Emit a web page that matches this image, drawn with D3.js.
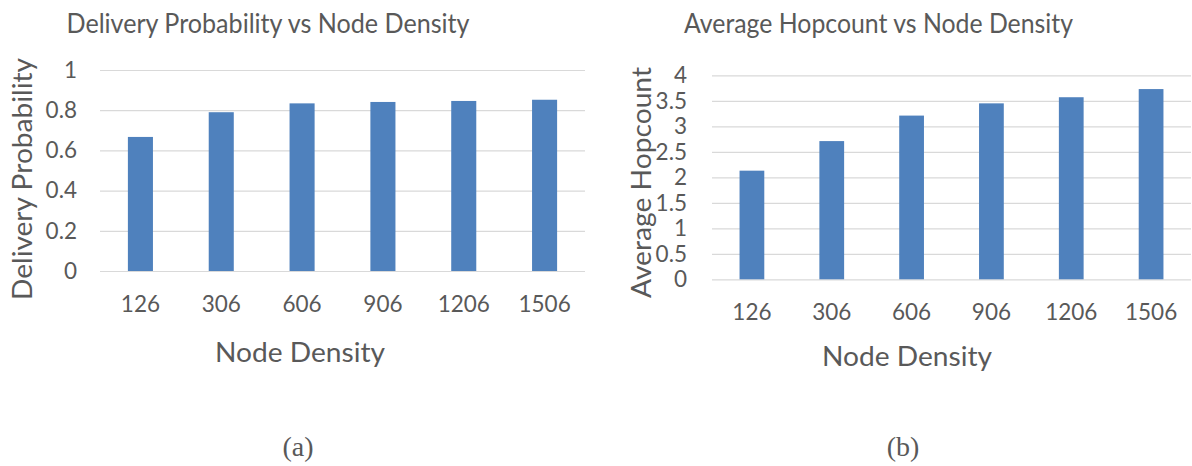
<!DOCTYPE html>
<html>
<head>
<meta charset="utf-8">
<script src="https://cdn.jsdelivr.net/npm/d3@7/dist/d3.min.js"></script>
<style>
  html, body { margin: 0; padding: 0; background: #fff; }
  svg { display: block; }
  text { font-family: Lato, "Open Sans", sans-serif; fill: #595959; }
</style>
</head>
<body>
<svg id="chart" width="1192" height="466"></svg>
<script>
// Categories shared by both panels
const nodeDensity = ["126", "306", "606", "906", "1206", "1506"];

// Panel (a): delivery probability per node density
const deliveryProbability = [0.667, 0.79, 0.834, 0.841, 0.846, 0.852];
const probabilityTicks = [0, 0.2, 0.4, 0.6, 0.8, 1];

// Panel (b): average hop count per node density
const averageHopcount = [2.13, 2.71, 3.21, 3.45, 3.57, 3.73];
const hopcountTicks = [0, 0.5, 1, 1.5, 2, 2.5, 3, 3.5, 4];

const svg = d3.select("#chart");
const barColor = "#4f81bd";
const gridColor = "#d9d9d9";
const textColor = "#595959";
const fontFamily = "Lato, 'Open Sans', sans-serif";

function drawPanel(cfg) {
  const x = d3.scaleBand()
    .domain(nodeDensity)
    .range([cfg.left, cfg.right])
    .paddingInner(0.69)
    .paddingOuter(0.345);

  const y = d3.scaleLinear()
    .domain([0, cfg.max])
    .range([cfg.bottom, cfg.top]);

  const g = svg.append("g");

  // horizontal gridlines
  const grid = g.append("g")
    .attr("transform", `translate(${cfg.left},0)`)
    .call(d3.axisLeft(y).tickValues(cfg.ticks)
      .tickSize(-(cfg.right - cfg.left)).tickFormat(""));
  grid.select(".domain").remove();
  grid.selectAll("line").attr("stroke", gridColor).attr("stroke-width", 1.2);

  // y tick labels
  const yAxis = g.append("g")
    .attr("transform", `translate(${cfg.left},0)`)
    .call(d3.axisLeft(y).tickValues(cfg.ticks).tickSize(0)
      .tickPadding(cfg.yPad).tickFormat(d => String(d)));
  yAxis.select(".domain").remove();
  yAxis.selectAll("text")
    .style("font-size", "22.5px")
    .style("font-family", fontFamily)
    .attr("fill", textColor);

  // bars
  g.append("g").selectAll("rect")
    .data(cfg.values)
    .join("rect")
    .attr("x", (d, i) => x(nodeDensity[i]))
    .attr("width", x.bandwidth())
    .attr("y", d => y(d))
    .attr("height", d => y(0) - y(d))
    .attr("fill", barColor);

  // x tick labels
  const xAxis = g.append("g")
    .attr("transform", `translate(0,${cfg.bottom})`)
    .call(d3.axisBottom(x).tickSize(0).tickPadding(25));
  xAxis.select(".domain").remove();
  xAxis.selectAll("text")
    .style("font-size", "22.5px")
    .style("font-family", fontFamily)
    .attr("fill", textColor);

  // chart title
  g.append("text")
    .attr("x", cfg.titleX)
    .attr("y", 33)
    .attr("text-anchor", "middle")
    .attr("textLength", cfg.titleLen)
    .attr("lengthAdjust", "spacingAndGlyphs")
    .style("font-size", "26px")
    .text(cfg.title);

  // x axis title
  g.append("text")
    .attr("x", cfg.xTitleX)
    .attr("y", cfg.xTitleY)
    .attr("text-anchor", "middle")
    .attr("textLength", 170)
    .attr("lengthAdjust", "spacingAndGlyphs")
    .style("font-size", "26px")
    .text("Node Density");

  // y axis title
  g.append("text")
    .attr("transform", `translate(${cfg.yTitleX},${cfg.yTitleY}) rotate(-90)`)
    .attr("text-anchor", "middle")
    .attr("textLength", cfg.yTitleLen)
    .attr("lengthAdjust", "spacingAndGlyphs")
    .style("font-size", "26px")
    .text(cfg.yTitle);

  // panel label
  g.append("text")
    .attr("x", cfg.labelX)
    .attr("y", 456)
    .attr("text-anchor", "middle")
    .style("font-family", "'Liberation Serif', 'DejaVu Serif', serif")
    .style("font-size", "28px")
    .attr("fill", "#000")
    .text(cfg.label);
}

drawPanel({
  values: deliveryProbability, ticks: probabilityTicks, max: 1,
  left: 100, right: 585, top: 70, bottom: 271, yPad: 23,
  title: "Delivery Probability vs Node Density", titleX: 268, titleLen: 403,
  xTitleX: 300, xTitleY: 362,
  yTitle: "Delivery Probability", yTitleX: 32, yTitleY: 179, yTitleLen: 242,
  label: "(a)", labelX: 298
});

drawPanel({
  values: averageHopcount, ticks: hopcountTicks, max: 4,
  left: 712, right: 1191, top: 75.3, bottom: 279.3, yPad: 25,
  title: "Average Hopcount vs Node Density", titleX: 878.5, titleLen: 389,
  xTitleX: 907, xTitleY: 366,
  yTitle: "Average Hopcount", yTitleX: 651, yTitleY: 182.5, yTitleLen: 231,
  label: "(b)", labelX: 903
});
</script>
</body>
</html>
